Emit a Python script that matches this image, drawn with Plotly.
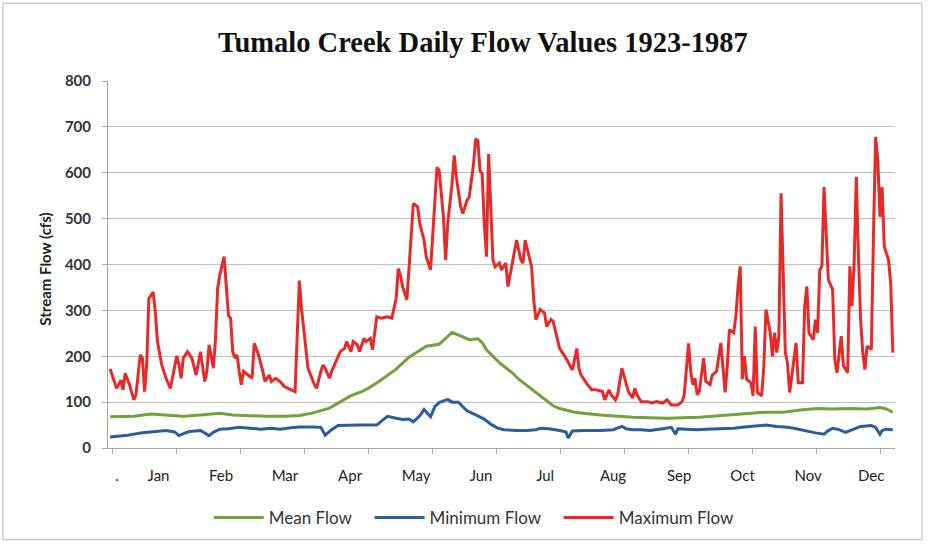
import plotly.graph_objects as go

# ---- data (day of year -> cfs) ----
max_days = [1, 4, 6, 7, 8, 10, 12, 13, 15, 16, 17, 18, 19, 21, 22, 23, 25, 27, 29, 30,
            32, 33, 34, 35, 37, 39, 41, 43, 44, 45, 46, 47, 49, 50, 51, 52, 54, 55, 56, 57,
            58, 59, 60, 61, 62, 63, 65, 67, 68, 70, 72, 73, 75, 76, 78, 80, 82, 85, 87, 89,
            90, 92, 93, 96, 97, 99, 100, 101, 103, 104, 106, 108, 110, 111, 113, 114, 116, 117, 119, 120,
            122, 123, 125, 127, 130, 132, 134, 135, 136, 137, 139, 140, 142, 144, 145, 147, 148, 150, 151, 153,
            154, 156, 157, 158, 160, 161, 162, 164, 165, 167, 168, 170, 171, 172, 173, 174, 175, 176, 177, 178,
            179, 180, 182, 183, 185, 186, 188, 189, 190, 192, 193, 194, 196, 197, 198, 199, 201, 203, 204, 206,
            207, 209, 210, 212, 213, 215, 216, 218, 219, 220, 223, 225, 227, 230, 231, 233, 234, 236, 237, 239,
            241, 242, 244, 245, 246, 248, 251, 253, 255, 258, 260, 262, 265, 267, 268, 270, 271, 272, 273, 274,
            275, 277, 278, 280, 281, 283, 285, 286, 287, 288, 289, 291, 292, 293, 294, 295, 296, 297, 299, 300,
            301, 302, 304, 305, 306, 308, 309, 310, 311, 312, 313, 314, 315, 316, 317, 318, 320, 321, 322, 323,
            324, 325, 326, 328, 329, 330, 331, 332, 333, 334, 335, 337, 338, 339, 341, 342, 344, 345, 346, 347,
            348, 349, 350, 351, 352, 353, 355, 356, 357, 358, 359, 360, 361, 363, 364, 365]
max_flow = [172, 130, 148, 127, 163, 138, 105, 116, 203, 196, 123, 181, 326, 340, 297, 232, 181, 152, 130, 152,
            201, 181, 152, 196, 210, 196, 159, 210, 181, 145, 167, 225, 174, 239, 348, 377, 417, 362, 290, 283,
            210, 196, 203, 167, 138, 167, 159, 152, 228, 203, 167, 145, 159, 145, 152, 145, 134, 127, 123, 365,
            304, 217, 174, 138, 130, 167, 181, 174, 152, 167, 188, 210, 217, 232, 210, 232, 225, 210, 239, 232,
            239, 214, 286, 283, 286, 283, 326, 391, 377, 352, 323, 395, 533, 526, 489, 453, 417, 388, 468, 612,
            605, 504, 410, 489, 576, 638, 591, 526, 511, 540, 547, 620, 674, 670, 605, 598, 489, 417, 641, 540,
            410, 395, 403, 388, 403, 352, 403, 424, 453, 410, 403, 453, 410, 395, 323, 280, 302, 294, 265, 280,
            276, 236, 217, 203, 196, 178, 170, 217, 174, 159, 138, 127, 127, 123, 105, 127, 116, 105, 116, 174,
            138, 123, 109, 130, 116, 101, 101, 98, 101, 98, 105, 94, 94, 101, 116, 228, 167, 138, 152, 116,
            123, 196, 145, 138, 159, 167, 229, 164, 121, 179, 258, 251, 287, 352, 396, 150, 200, 150, 142, 114,
            265, 121, 114, 179, 302, 251, 200, 251, 208, 244, 555, 381, 208, 186, 121, 157, 229, 142, 142, 142,
            309, 352, 251, 236, 280, 251, 388, 396, 569, 468, 367, 345, 193, 164, 244, 179, 164, 396, 309, 403,
            591, 417, 280, 208, 171, 222, 215, 468, 678, 627, 504, 569, 439, 410, 359, 208]

mean_days = [1, 12, 20, 27, 35, 43, 52, 58, 66, 74, 82, 89, 95, 100, 103, 106, 110, 113, 118, 121,
             126, 129, 134, 137, 140, 144, 148, 154, 157, 160, 162, 165, 168, 172, 174, 176, 180, 182, 185, 188,
             191, 195, 198, 201, 204, 207, 210, 213, 217, 221, 229, 244, 260, 275, 291, 306, 314, 322, 330, 337,
             345, 353, 359, 362, 365]
mean_flow = [68, 69, 74, 72, 69, 72, 76, 72, 70, 69, 69, 71, 76, 82, 87, 95, 105, 114, 123, 130,
             145, 155, 172, 185, 198, 210, 222, 226, 239, 252, 248, 242, 236, 238, 230, 214, 196, 186, 175, 164,
             150, 135, 124, 114, 102, 92, 86, 82, 78, 76, 72, 67, 65, 67, 72, 78, 78, 83, 86, 85,
             86, 85, 88, 85, 78]

min_days = [1, 8, 16, 22, 27, 31, 33, 36, 38, 43, 45, 47, 49, 52, 56, 61, 66, 71, 76, 80,
            85, 89, 95, 99, 101, 104, 107, 112, 117, 121, 125, 128, 130, 134, 137, 140, 142, 145, 147, 150,
            152, 154, 156, 158, 160, 163, 165, 167, 171, 175, 178, 181, 184, 190, 195, 199, 201, 205, 210, 213,
            214, 216, 221, 229, 235, 239, 241, 244, 248, 252, 258, 262, 264, 265, 269, 274, 278, 285, 291, 296,
            302, 306, 311, 315, 319, 322, 325, 329, 333, 335, 337, 340, 343, 346, 350, 355, 357, 359, 360, 362,
            365]
min_flow = [24, 27, 33, 36, 38, 35, 27, 33, 36, 38, 33, 27, 34, 41, 42, 45, 43, 41, 43, 41,
            44, 46, 46, 45, 28, 40, 49, 50, 50, 50, 50, 62, 69, 65, 62, 63, 57, 70, 84, 68,
            90, 99, 102, 106, 100, 100, 90, 81, 72, 63, 52, 44, 40, 38, 38, 40, 43, 42, 38, 35,
            22, 37, 38, 38, 40, 47, 42, 40, 40, 38, 42, 45, 30, 42, 41, 40, 41, 42, 43, 46,
            49, 50, 47, 46, 43, 40, 36, 33, 30, 38, 43, 40, 34, 40, 47, 49, 45, 30, 38, 41,
            40]

series_names = ["Mean Flow", "Minimum Flow", "Maximum Flow"]
month_labels = [".", "Jan", "Feb", "Mar", "Apr", "May", "Jun", "Jul", "Aug", "Sep", "Oct", "Nov", "Dec"]
label_days = [4.2, 23.5, 52.6, 82.3, 112.6, 143.3, 173.5, 203.3, 234.9, 265.6, 295.1, 325.6, 354.9]
tick_days = [2.3 + 29.75 * k for k in range(13)]
y_ticks = [0, 100, 200, 300, 400, 500, 600, 700, 800]

GREEN = "#73A13A"
BLUE = "#2C5C9E"
RED = "#E62A2A"

PAD = "\u00a0" * 3  # extra gap after a legend entry

fig = go.Figure()
fig.add_trace(go.Scatter(x=mean_days, y=mean_flow, mode="lines", name=series_names[0] + PAD,
                         line=dict(color=GREEN, width=3)))
fig.add_trace(go.Scatter(x=min_days, y=min_flow, mode="lines", name=series_names[1] + PAD,
                         line=dict(color=BLUE, width=3)))
fig.add_trace(go.Scatter(x=max_days, y=max_flow, mode="lines", name=series_names[2],
                         line=dict(color=RED, width=3)))

fig.update_layout(
    width=934, height=547,
    margin=dict(l=108, r=39, t=81, b=98),
    paper_bgcolor="white", plot_bgcolor="white",
    title=dict(text="<b>Tumalo Creek Daily Flow Values 1923-1987</b>",
               font=dict(family="Liberation Serif", size=28.5, color="#111111"),
               x=0.517, xanchor="center", y=0.923, yanchor="middle"),
    showlegend=True,
    legend=dict(orientation="h", x=0.128, xanchor="left", y=-0.1875, yanchor="middle",
                font=dict(family="Lato", size=17, color="#333333"),
                itemwidth=50, bgcolor="rgba(0,0,0,0)"),
    font=dict(family="Lato"),
)

fig.update_xaxes(
    range=[0, 366],
    tickmode="array", tickvals=label_days, ticktext=month_labels,
    ticks="", ticklabelstandoff=14,
    tickfont=dict(family="Lato", size=15, color="#222222"),
    showgrid=False, zeroline=False,
    showline=True, linecolor="#A6A6A6", linewidth=1,
    minor=dict(tickmode="array", tickvals=tick_days, ticks="outside", ticklen=5,
               tickcolor="#A6A6A6", tickwidth=1, showgrid=False),
)
fig.update_yaxes(
    range=[0, 800],
    tickmode="array", tickvals=y_ticks,
    ticks="outside", ticklen=5, tickcolor="#A6A6A6",
    ticklabelstandoff=8,
    tickfont=dict(family="Lato", size=15, color="#333333", weight="bold"),
    showgrid=True, gridcolor="#BFBFBF", gridwidth=1,
    zeroline=False,
    showline=True, linecolor="#A6A6A6", linewidth=1,
)

fig.add_annotation(text="<b>Stream Flow (cfs)</b>", textangle=-90,
                   xref="paper", yref="paper", x=-0.080, y=0.486,
                   xanchor="center", yanchor="middle", showarrow=False,
                   font=dict(family="Lato", size=15, color="#222222"))

# outer chart border
fig.add_shape(type="rect", xref="paper", yref="paper",
              x0=-0.1334, x1=1.0343, y0=-0.2500, y1=1.2120,
              line=dict(color="#B5B5B5", width=1), fillcolor="rgba(0,0,0,0)", layer="below")

fig.write_html("out.html", config={"displayModeBar": False},
               post_script="document.body.style.margin='0';")
